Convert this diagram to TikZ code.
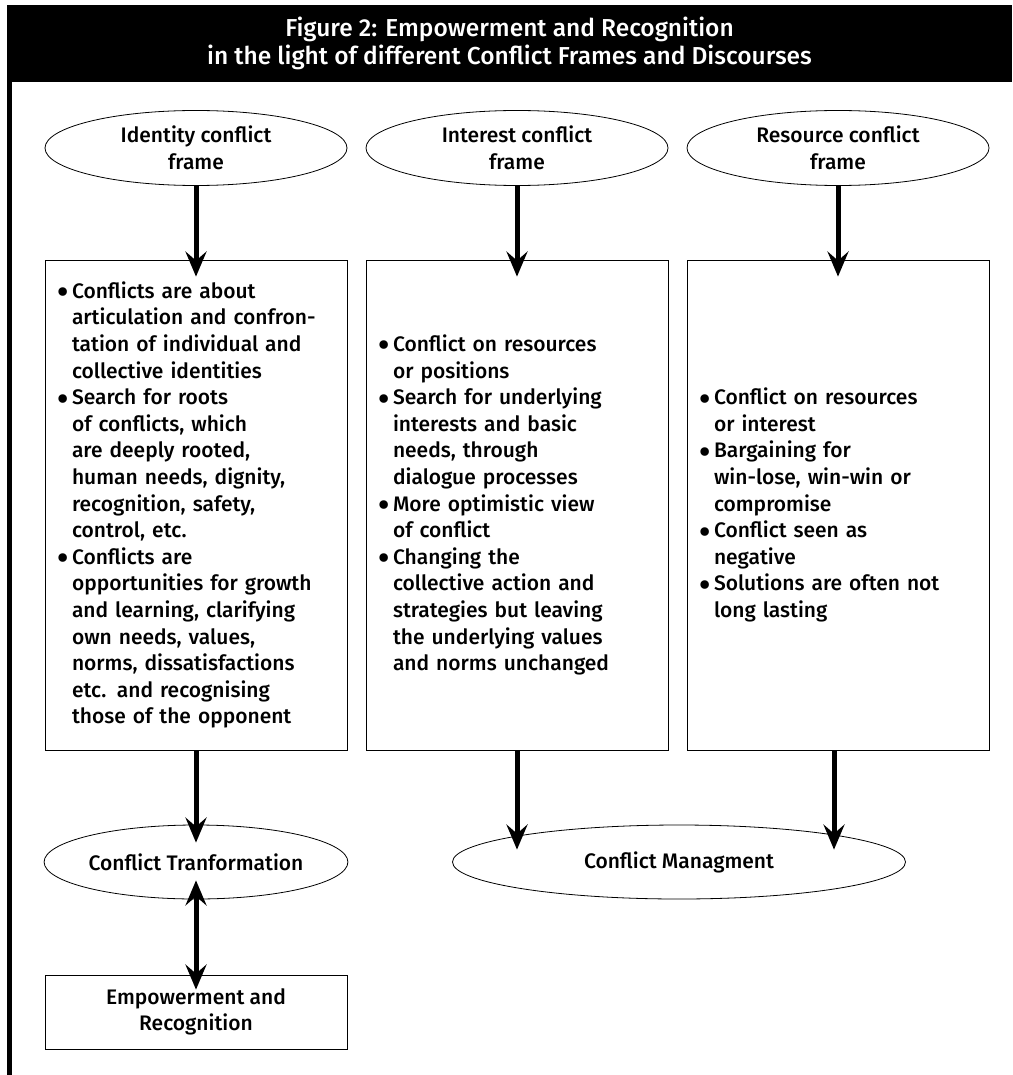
\documentclass[tikz,border=0pt]{standalone}
\usepackage{fontspec}
\setmainfont{Fira Sans}[UprightFont={Fira Sans Medium}]
\usetikzlibrary{shapes.geometric,arrows.meta}
\newcommand\bul{\makebox[15pt][l]{\raisebox{-5.5pt}{\scalebox{1.6}{\textbullet}}}}
\newcommand\ind{\hspace*{15pt}}

\begin{document}
\begin{tikzpicture}[%
		x=1pt, y=-1pt,
		font=\fontsize{21}{26.6}\selectfont,
		frame/.style={draw, ellipse, minimum width=302pt, minimum height=75pt,
			inner sep=0pt, align=center, line width=0.8pt},
		listbox/.style={draw, rectangle, text width=278pt, inner xsep=12pt,
			minimum height=490pt, align=left, line width=0.8pt},
		flow/.style={line width=5pt, -{Stealth[length=25pt,width=21pt,inset=9pt]}},
		flowboth/.style={line width=5pt, {Stealth[length=25pt,width=21pt,inset=9pt]}-{Stealth[length=25pt,width=21pt,inset=9pt]}}]
		\useasboundingbox (0,0) rectangle (1012,1075);
		% header and border
		\node[fill=black, text=white, minimum width=1005pt, minimum height=77pt,
			inner sep=0pt, align=center, font=\fontsize{24.5}{28}\selectfont] (header) at (509.5,43.5)
			{Figure 2: Empowerment and Recognition\\in the light of different Conflict Frames and Discourses};
		\draw[line width=5pt] (9.5,82) -- (9.5,1075);
		% frames
		\node[frame] (idframe) at (196,148) {Identity conflict\\frame};
		\node[frame] (intframe) at (517,148) {Interest conflict\\frame};
		\node[frame] (resframe) at (838,148) {Resource conflict\\frame};
		% discourses
		\node[listbox] (idbox) at (196,505) {%
			\bul Conflicts are about\\
			\ind articulation and confron-\\
			\ind tation of individual and\\
			\ind collective identities\\
			\bul Search for roots\\
			\ind of conflicts, which\\
			\ind are deeply rooted,\\
			\ind human needs, dignity,\\
			\ind recognition, safety,\\
			\ind control, etc.\\
			\bul Conflicts are\\
			\ind opportunities for growth\\
			\ind and learning, clarifying\\
			\ind own needs, values,\\
			\ind norms, dissatisfactions\\
			\ind etc. and recognising\\
			\ind those of the opponent};
		\node[listbox] (intbox) at (517,505) {%
			\bul Conflict on resources\\
			\ind or positions\\
			\bul Search for underlying\\
			\ind interests and basic\\
			\ind needs, through\\
			\ind dialogue processes\\
			\bul More optimistic view\\
			\ind of conflict\\
			\bul Changing the\\
			\ind collective action and\\
			\ind strategies but leaving\\
			\ind the underlying values\\
			\ind and norms unchanged\par\vspace{24pt}};
		\node[listbox] (resbox) at (838,505) {%
			\bul Conflict on resources\\
			\ind or interest\\
			\bul Bargaining for\\
			\ind win-lose, win-win or\\
			\ind compromise\\
			\bul Conflict seen as\\
			\ind negative\\
			\bul Solutions are often not\\
			\ind long lasting};
		% outcomes
		\node[frame, minimum height=74pt] (trans) at (196,862) {Conflict Tranformation};
		\node[frame, minimum width=453pt, minimum height=74pt] (mgmt) at (679,862) {Conflict Managment};
		\node[draw, rectangle, minimum width=302pt, minimum height=74pt, inner sep=0pt,
			align=center, line width=0.8pt] (emp) at (196,1012) {Empowerment and\\Recognition};
		% arrows
		\draw[flow] (idframe.south) -- ([yshift=-17pt]idbox.north);
		\draw[flow] (intframe.south) -- ([yshift=-17pt]intbox.north);
		\draw[flow] (resframe.south) -- ([yshift=-17pt]resbox.north);
		\draw[flow] (idbox.south) -- ([yshift=-18pt]trans.north);
		\draw[flow] (intbox.south) -- ([yshift=-25pt]intbox.south |- mgmt.north);
		\draw[flow] ([xshift=-4pt]resbox.south) -- ([xshift=-4pt,yshift=-25pt]resbox.south |- mgmt.north);
		\draw[flowboth] ([yshift=19pt]trans.south) -- ([yshift=-15pt]emp.north);
		\end{tikzpicture}
\end{document}
